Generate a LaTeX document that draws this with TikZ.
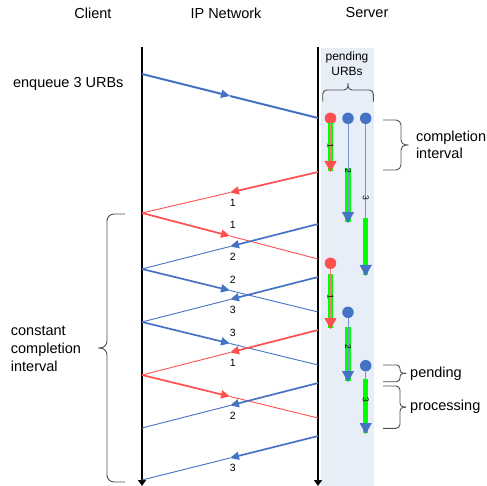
\documentclass[tikz,border=0pt]{standalone}
\usepackage{fontspec}
\setmainfont{Liberation Sans}
\usetikzlibrary{positioning}
\usetikzlibrary{calc}
\usetikzlibrary{arrows.meta}

\definecolor{urbblue}{HTML}{4472C4}
\definecolor{urbred}{HTML}{FF4F4F}
\definecolor{urbgreen}{HTML}{00FF00}
\definecolor{srvbg}{HTML}{E8EEF7}
\definecolor{bracegray}{HTML}{505050}

\tikzset{
	head/.style={font=\fontsize{14.5}{17}\selectfont,inner sep=0pt},
	note/.style={font=\fontsize{14.5}{17}\selectfont,align=left,anchor=west,inner sep=0pt},
	smallnote/.style={font=\fontsize{12}{14.5}\selectfont,align=center,inner sep=0pt},
	numlbl/.style={font=\fontsize{10.5}{12}\selectfont,inner sep=0pt},
	barlbl/.style={font=\fontsize{8.5}{9}\selectfont,rotate=-90,inner sep=0pt},
	lifeline/.style={line width=2.6pt,-{Triangle[length=6pt,width=8pt]}},
	thickmsg/.style={line width=1.7pt,-{Triangle[length=9pt,width=8pt]}},
	thinmsg/.style={line width=0.9pt},
	urbdot/.style={circle,minimum size=11.5pt,inner sep=0pt},
	urbline/.style={line width=0.9pt,-{Triangle[length=11pt,width=12pt,color=#1]}},
	bracestyle/.style={bracegray,line width=0.9pt,rounded corners=#1},
	bracestyle/.default=4pt
}

% message: colour, from, to, label, label shift
\newcommand{\sendmsg}[5]{%
	\draw[#1,thinmsg] ($(#2)!0.5!(#3)$) -- (#3);
	\draw[#1,thickmsg] (#2) -- ($(#2)!0.5!(#3)$)
		node[numlbl,pos=1,xshift=2.7pt,yshift=#5,text=black] {#4};
}

% urb: name, colour, label, x, dot y, bar top, bar end, label y
\newcommand{\urbrun}[8]{%
	\node[urbdot,fill=#2] (#1) at (#4,#5) {};
	\fill[urbgreen] (#4-2.6,#6) rectangle (#4+2.6,#7);
	\coordinate (#1e) at (#4,#7+1);
	\draw[#2!75,urbline=#2] (#1) -- (#1e);
	\node[barlbl] at (#4,#8) {#3};
}

% side brace: name of tip, arm x, body x, tip x, top y, bottom y, corner
\newcommand{\sidebrace}[7]{%
	\coordinate (#1) at (#4,{(#5+#6)/2});
	\draw[bracestyle=#7] (#2,#5) -- (#3,#5) -- (#3,{(#5+#6)/2}) -- (#1);
	\draw[bracestyle=#7] (#2,#6) -- (#3,#6) -- (#3,{(#5+#6)/2}) -- (#1);
}

\begin{document}
\begin{tikzpicture}[x=1pt,y=-1pt]
	\useasboundingbox (0,0) rectangle (487,486);
	
	% server queue area
	\fill[srvbg] (321,48) rectangle (374,486);
	
	% headings
	\node[head] (client) at (93,13) {Client};
	\node[head] (network) at (226,13) {IP Network};
	\node[head] (server) at (367,13) {Server};
	
	% life lines
	\coordinate (ctop) at (142,47);
	\coordinate (cbot) at (142,486);
	\coordinate (stop) at (318,47);
	\coordinate (sbot) at (318,486);
	\draw[lifeline] (ctop) -- (cbot);
	\draw[lifeline] (stop) -- (sbot);
	
	% Client side
	\coordinate (c0) at (142,74);
	\coordinate (c1) at (142,213);
	\coordinate (c2) at (142,269);
	\coordinate (c3) at (142,322);
	\coordinate (c4) at (142,375);
	\coordinate (c5) at (142,428);
	\coordinate (c6) at (142,480);
	
	% Server side
	\coordinate (s0) at (318,118);
	\coordinate (s1) at (318,172);
	\coordinate (s2) at (318,224);
	\coordinate (s3) at (318,259);
	\coordinate (s4) at (318,277);
	\coordinate (s5) at (318,312);
	\coordinate (s6) at (318,330);
	\coordinate (s7) at (318,365);
	\coordinate (s8) at (318,383);
	\coordinate (s9) at (318,418);
	\coordinate (s10) at (318,436);
	
	\node[note,anchor=center] (enqueue) at (68.3,84) {enqueue 3 URBs};
	\draw[urbblue,line width=2pt,
		-{Triangle[length=9pt,width=8pt]}] (c0) -- ($(c0)!0.5!(s0)$);
	\draw[urbblue,line width=2pt] ($(c0)!0.5!(s0)$) -- (s0);
	
	\sendmsg{urbred}{s1}{c1}{1}{-10.3pt}
	\sendmsg{urbred}{c1}{s3}{1}{11pt}
	\sendmsg{urbblue}{s2}{c2}{2}{-10.3pt}
	\sendmsg{urbblue}{c2}{s5}{2}{11pt}
	\sendmsg{urbblue}{s4}{c3}{3}{-10.3pt}
	\sendmsg{urbblue}{c3}{s7}{3}{11pt}
	\sendmsg{urbred}{s6}{c4}{1}{-10.3pt}
	\sendmsg{urbred}{c4}{s9}{}{11pt}
	\sendmsg{urbblue}{s8}{c5}{2}{-10.3pt}
	\sendmsg{urbblue}{s10}{c6}{3}{-10.3pt}
	
	% pending URBs
	\node[smallnote] (pendurbs) at (347,63.8) {pending\\URBs};
	\coordinate (pbtip) at (348,83.3);
	\draw[bracestyle=4pt] (322.7,101.7) -- (322.7,90) -- (348,90) -- (pbtip);
	\draw[bracestyle=4pt] (373.3,101.7) -- (373.3,90) -- (348,90) -- (pbtip);
	
	% first round
	\urbrun{ua}{urbred}{1}{330.5}{118.3}{123}{171}{146}
	\urbrun{ub}{urbblue}{2}{348}{118.3}{168}{222}{171}
	\urbrun{uc}{urbblue}{3}{365.7}{118.3}{218}{275}{198}
	
	% second round
	\urbrun{va}{urbred}{1}{330.5}{263.3}{274}{328}{297}
	\urbrun{vb}{urbblue}{2}{348}{312.3}{327}{381}{347}
	\urbrun{vc}{urbblue}{3}{365.7}{365.7}{379}{433}{400}
	
	% braces and notes
	\sidebrace{citip}{383}{401}{408.3}{120}{170}{5pt}
	\node[note,right=7.5pt of citip] (cinote) {completion\\interval};
	
	\sidebrace{pendtip}{383}{400}{406}{365}{381.7}{3.5pt}
	\node[note,right=4pt of pendtip] (pendnote) {pending};
	
	\sidebrace{proctip}{383}{400}{406}{386}{428.3}{4pt}
	\node[note,right=4pt of proctip] (procnote) {processing};
	
	\sidebrace{cctip}{125}{107}{98.3}{214}{482}{7pt}
	\node[note,font=\fontsize{14.5}{17.8}\selectfont] (ccnote) at (10.7,349) {constant\\completion\\interval};
\end{tikzpicture}
\end{document}
